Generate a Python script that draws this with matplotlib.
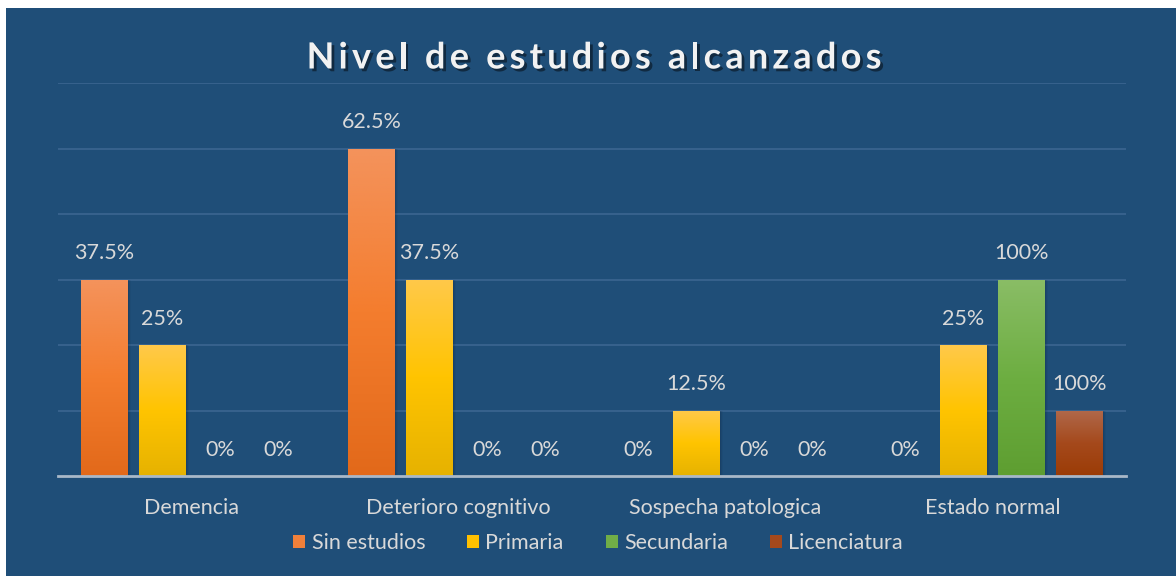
import numpy as np
import matplotlib
matplotlib.use("Agg")
import matplotlib.pyplot as plt
import matplotlib.patheffects as pe
from matplotlib.patches import Rectangle, Patch
from matplotlib.colors import LinearSegmentedColormap

# data: bar heights are counts, labels are the printed percentages
categories = ["Demencia", "Deterioro cognitivo", "Sospecha patologica", "Estado normal"]
series = ["Sin estudios", "Primaria", "Secundaria", "Licenciatura"]

sin_estudios = [3, 5, 0, 0]
primaria = [2, 3, 1, 2]
secundaria = [0, 0, 0, 3]
licenciatura = [0, 0, 0, 1]

sin_estudios_lbl = ["37.5%", "62.5%", "0%", "0%"]
primaria_lbl = ["25%", "37.5%", "12.5%", "25%"]
secundaria_lbl = ["0%", "0%", "0%", "100%"]
licenciatura_lbl = ["0%", "0%", "0%", "100%"]

title = "Nivel de estudios alcanzados"

values = [sin_estudios, primaria, secundaria, licenciatura]
labels = [sin_estudios_lbl, primaria_lbl, secundaria_lbl, licenciatura_lbl]

# gradient stops (top, middle, bottom) and flat legend colours
gradients = [
    ["#F4935C", "#F47D2E", "#E2691A"],
    ["#FFC94A", "#FFC400", "#E6B200"],
    ["#8ABD66", "#6DAE41", "#5E9E31"],
    ["#B0694B", "#A5491C", "#9B3C06"],
]
legend_colors = ["#F0803A", "#FFC000", "#70AD47", "#A5491C"]

BG = "#1F4E78"
TXT = "#D9D9D9"
FONT = ["Lato", "DejaVu Sans"]
FS = 15.5

plt.rcParams["font.family"] = FONT

W, H = 1176, 576
fig = plt.figure(figsize=(W / 100, H / 100), dpi=100, facecolor="white")
# blue panel with the thin white margin on top/left
fig.patches.append(Rectangle((6 / W, 0), 1, 1 - 8 / H, transform=fig.transFigure,
                             facecolor=BG, edgecolor="none", zorder=-1))

ax = fig.add_axes([58 / W, 100 / H, 1068 / W, 393 / H])
ax.set_facecolor(BG)
ax.patch.set_alpha(0)

x = np.arange(len(categories))
step = 58 / 267
width = 47 / 267
ymax = 6

for i, (vals, lbls, stops) in enumerate(zip(values, labels, gradients)):
    cmap = LinearSegmentedColormap.from_list("g%d" % i, stops[::-1])
    grad = np.linspace(0, 1, 256).reshape(-1, 1)
    offs = (i - 1.5) * step
    for xi, v, lb in zip(x, vals, lbls):
        xc = xi + offs
        if v > 0:
            # soft shadow
            for k, a in enumerate([0.12, 0.09, 0.06]):
                dx = 0.004 * (k + 1)
                ax.add_patch(Rectangle((xc - width / 2 + dx, 0), width, v,
                                       facecolor="#0A2038", edgecolor="none", alpha=a, zorder=2))
            bar = ax.bar(xc, v, width, color="none", edgecolor="none", zorder=3)[0]
            im = ax.imshow(grad, cmap=cmap, aspect="auto", origin="lower",
                           extent=(xc - width / 2, xc + width / 2, 0, v), zorder=3)
            im.set_clip_path(bar)
        ax.annotate(lb, (xc, v), xytext=(0, 19), textcoords="offset points",
                    ha="center", va="center", color=TXT, fontsize=FS)

ax.set_xlim(-0.5, len(categories) - 0.5)
ax.set_ylim(0, ymax)
ax.set_yticks(np.arange(1, ymax + 1))
ax.yaxis.grid(True, color="#36618C", linewidth=1.5)
ax.set_axisbelow(True)
ax.tick_params(axis="y", left=False, labelleft=False)
ax.set_xticks(x)
ax.set_xticklabels(categories, color=TXT, fontsize=FS)
ax.tick_params(axis="x", length=0, pad=16)
for s in ["top", "left", "right"]:
    ax.spines[s].set_visible(False)
ax.spines["bottom"].set_color("#A9B8C8")
ax.spines["bottom"].set_linewidth(2)
ax.spines["bottom"].set_zorder(4)

# title with expanded letter spacing, placed char by char
renderer = fig.canvas.get_renderer()
tkw = dict(fontsize=26, fontweight="bold", color="#F2F2F2")


def text_w(s):
    t = fig.text(0, 0, s, **tkw)
    w = t.get_window_extent(renderer).width
    t.remove()
    return w


tracking = 4.2
full_w = text_w(title) + tracking * (len(title) - 1)
x0 = 594 - full_w / 2
ty = 1 - 58 / H
shadow = [pe.SimplePatchShadow(offset=(2, -2), shadow_rgbFace="black", alpha=0.45), pe.Normal()]
for k, ch in enumerate(title):
    if ch == " ":
        continue
    left = text_w(title[:k + 1]) - text_w(ch) + k * tracking
    fig.text((x0 + left) / W, ty, ch, ha="left", va="center", path_effects=shadow, **tkw)

handles = [Patch(facecolor=c, edgecolor="none") for c in legend_colors]
fig.legend(handles, series, loc="center", bbox_to_anchor=(598 / W, 1 - 543 / H), ncol=4,
           frameon=False, fontsize=FS, labelcolor=TXT, handlelength=0.55, handleheight=0.55,
           handletextpad=0.3, columnspacing=1.95)

fig.savefig("out.png", dpi=100, facecolor=fig.get_facecolor())
